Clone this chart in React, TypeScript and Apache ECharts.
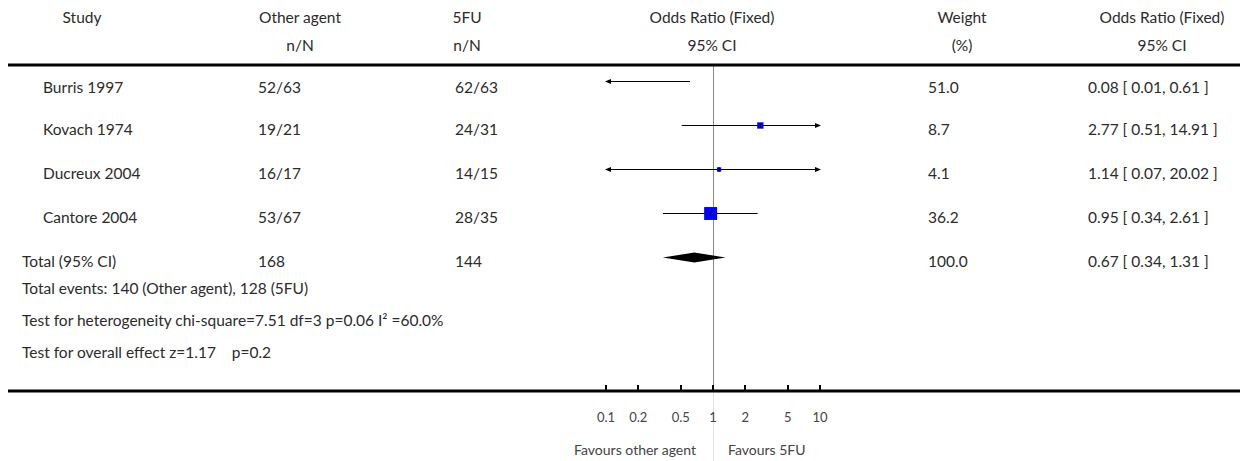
import React, { useEffect, useRef } from "react";
import * as echarts from "echarts";

// ---------- data ----------
const headerRow1 = ["Study", "Other agent", "5FU", "Odds Ratio (Fixed)", "Weight", "Odds Ratio (Fixed)"];
const headerRow2 = ["", "n/N", "n/N", "95% CI", "(%)", "95% CI"];

const studies = ["Burris 1997", "Kovach 1974", "Ducreux 2004", "Cantore 2004"];
const otherAgent = ["52/63", "19/21", "16/17", "53/67"];
const fiveFU = ["62/63", "24/31", "14/15", "28/35"];
const weights = [51.0, 8.7, 4.1, 36.2];
const oddsRatio = [0.08, 2.77, 1.14, 0.95];
const ciLow = [0.01, 0.51, 0.07, 0.34];
const ciHigh = [0.61, 14.91, 20.02, 2.61];

const totalLabel = "Total (95% CI)";
const totalOther = "168";
const totalFiveFU = "144";
const totalWeight = 100.0;
const totalOR = 0.67;
const totalLow = 0.34;
const totalHigh = 1.31;

const notes = [
  "Total events: 140 (Other agent), 128 (5FU)",
  "Test for heterogeneity chi-square=7.51 df=3 p=0.06 I\u00b2 =60.0%",
  "Test for overall effect z=1.17\u00a0\u00a0\u00a0\u00a0p=0.2",
];

const tickValues = [0.1, 0.2, 0.5, 1, 2, 5, 10];
const axisMin = 0.1;
const axisMax = 10;
const favourLeft = "Favours other agent";
const favourRight = "Favours 5FU";

// ---------- styles ----------
const FONT = "Lato, 'DejaVu Sans', sans-serif";
const TEXT = "#2b2b2b";
const FS = 15.5;

const fmt2 = (v: number) => v.toFixed(2);
const ciText = (o: number, l: number, h: number) => `${fmt2(o)} [ ${fmt2(l)}, ${fmt2(h)} ]`;

export default function App() {
  const ref = useRef<HTMLDivElement>(null);

  useEffect(() => {
    if (!ref.current) return;
    const chart = echarts.init(ref.current, undefined, { renderer: "svg" });

    const data: number[][] = studies.map((_, i) => [ciLow[i], ciHigh[i], oddsRatio[i], weights[i], i, 0]);
    data.push([totalLow, totalHigh, totalOR, totalWeight, studies.length, 1]);

    const renderItem = (params: any, api: any) => {
      const lo = api.value(0);
      const hi = api.value(1);
      const est = api.value(2);
      const w = api.value(3);
      const row = api.value(4);
      const isTotal = api.value(5);
      const y = Math.round(api.coord([1, row])[1]) + 0.5;
      const xLo = api.coord([Math.max(lo, axisMin), row])[0];
      const xHi = api.coord([Math.min(hi, axisMax), row])[0];
      const children: any[] = [];
      if (isTotal) {
        const xE = api.coord([est, row])[0];
        children.push({
          type: "polygon",
          shape: { points: [[xLo, y], [xE, y - 5], [xHi, y], [xE, y + 5]] },
          style: { fill: "#000" },
        });
      } else {
        children.push({
          type: "line",
          shape: { x1: xLo, y1: y, x2: xHi, y2: y },
          style: { stroke: "#000", lineWidth: 1 },
        });
        if (lo < axisMin) {
          children.push({
            type: "polygon",
            shape: { points: [[xLo - 1, y], [xLo + 5, y - 2.5], [xLo + 5, y + 2.5]] },
            style: { fill: "#000" },
          });
        }
        if (hi > axisMax) {
          children.push({
            type: "polygon",
            shape: { points: [[xHi + 1, y], [xHi - 5, y - 2.5], [xHi - 5, y + 2.5]] },
            style: { fill: "#000" },
          });
        }
        if (est >= axisMin && est <= axisMax) {
          const xE = api.coord([est, row])[0];
          const s = 2.15 * Math.sqrt(w);
          children.push({
            type: "rect",
            shape: { x: xE - s / 2, y: y - s / 2, width: s, height: s },
            style: { fill: "#0000ff" },
          });
          children.push({
            type: "line",
            shape: { x1: xE, y1: y - 2.5, x2: xE, y2: y + 2.5 },
            style: { stroke: "#000", lineWidth: 1 },
          });
        }
      }
      return { type: "group", children };
    };

    const gridTop = 66;
    const gridBottomY = 390;
    const rowStep = 44;
    const firstRowY = 81;
    const yMin = -(firstRowY - gridTop) / rowStep;
    const yMax = yMin + (gridBottomY - gridTop) / rowStep;

    chart.setOption({
      animation: false,
      textStyle: { fontFamily: FONT },
      grid: { left: 606, right: 1244 - 820, top: gridTop, bottom: 461 - gridBottomY },
      xAxis: {
        type: "log",
        logBase: 10,
        min: axisMin,
        max: axisMax,
        position: "bottom",
        axisLine: { show: false, onZero: false },
        splitLine: { show: false },
        minorTick: { show: false },
        axisTick: {
          show: true,
          inside: true,
          length: 5,
          customValues: tickValues,
          lineStyle: { color: "#000", width: 2 },
        },
        axisLabel: {
          customValues: tickValues,
          margin: 20,
          color: "#444",
          fontSize: 13,
          fontFamily: FONT,
          formatter: (v: number) => String(v),
        },
      },
      yAxis: { type: "value", inverse: true, min: yMin, max: yMax, show: false },
      series: [
        {
          type: "custom",
          renderItem,
          data,
          encode: { x: [0, 1, 2], y: 4 },
          z: 3,
        },
      ],
    });

    const xOne = chart.convertToPixel({ xAxisIndex: 0 }, 1) as number;
    const rowY = (i: number) => chart.convertToPixel({ yAxisIndex: 0 }, i) as number;
    const vx = Math.round(xOne) + 0.5;

    const txt = (text: string, x: number, y: number, align: string, size = FS, color = TEXT) => ({
      type: "text",
      z: 10,
      style: {
        text,
        x,
        y,
        fill: color,
        fontSize: size,
        fontFamily: FONT,
        align,
        verticalAlign: "middle",
        textAlign: align,
        textVerticalAlign: "middle",
      },
    });

    const headerX = [82, 300, 467, 712, 962, 1162];
    const graphics: any[] = [];
    headerRow1.forEach((h, i) => h && graphics.push(txt(h, headerX[i], 17, "center")));
    headerRow2.forEach((h, i) => h && graphics.push(txt(h, headerX[i], 45, "center")));

    const colX = { study: 43, other: 258, five: 455, weight: 928, ci: 1088 };
    const textOff = 4;
    studies.forEach((s, i) => {
      const y = rowY(i) + textOff + (i === 0 ? 2 : 0);
      graphics.push(txt(s, colX.study, y, "left"));
      graphics.push(txt(otherAgent[i], colX.other, y, "left"));
      graphics.push(txt(fiveFU[i], colX.five, y, "left"));
      graphics.push(txt(weights[i].toFixed(1), colX.weight, y, "left"));
      graphics.push(txt(ciText(oddsRatio[i], ciLow[i], ciHigh[i]), colX.ci, y, "left"));
    });
    const ty = rowY(studies.length) + textOff;
    graphics.push(txt(totalLabel, 22, ty, "left"));
    graphics.push(txt(totalOther, colX.other, ty, "left"));
    graphics.push(txt(totalFiveFU, colX.five, ty, "left"));
    graphics.push(txt(totalWeight.toFixed(1), colX.weight, ty, "left"));
    graphics.push(txt(ciText(totalOR, totalLow, totalHigh), colX.ci, ty, "left"));

    const noteY = [288, 320, 352];
    notes.forEach((n, i) => graphics.push(txt(n, 22, noteY[i], "left")));

    // horizontal rules
    graphics.push({ type: "line", z: 1, shape: { x1: 8, y1: 65, x2: 1240, y2: 65 }, style: { stroke: "#000", lineWidth: 3 } });
    graphics.push({ type: "line", z: 1, shape: { x1: 8, y1: 391, x2: 1240, y2: 391 }, style: { stroke: "#000", lineWidth: 3 } });
    // reference line at OR = 1
    graphics.push({ type: "line", z: 0, shape: { x1: vx, y1: 66, x2: vx, y2: 390 }, style: { stroke: "#8a8a8a", lineWidth: 1 } });
    graphics.push({ type: "line", z: 0, shape: { x1: vx, y1: 393, x2: vx, y2: 461 }, style: { stroke: "#e0e0e0", lineWidth: 1 } });

    graphics.push(txt(favourLeft, xOne - 17, 449, "right", 14, "#444"));
    graphics.push(txt(favourRight, xOne + 15, 449, "left", 14, "#444"));

    chart.setOption({ graphic: graphics });

    return () => chart.dispose();
  }, []);

  return (
    <div
      ref={ref}
      style={{ position: "absolute", left: 0, top: 0, width: 1244, height: 461, background: "#fff" }}
    />
  );
}
